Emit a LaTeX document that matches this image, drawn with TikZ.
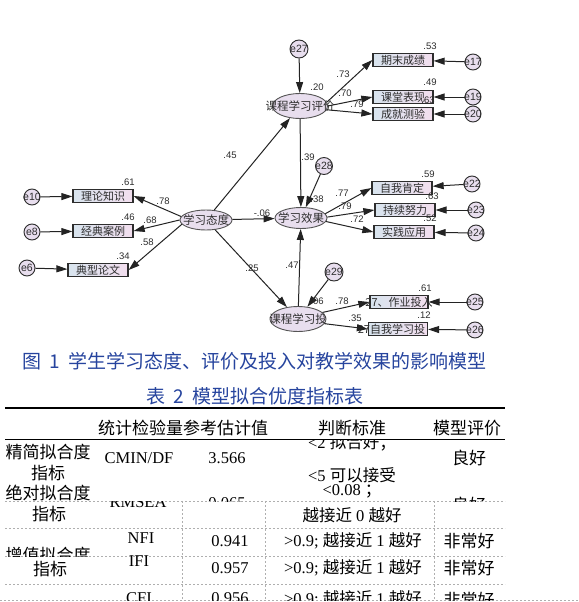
\documentclass[tikz,border=0pt]{standalone}
\usepackage{fontspec}
\setmainfont{Liberation Serif}
\newfontfamily\cjk{Noto Sans CJK SC}
\newfontfamily\arial{Liberation Sans}
\usetikzlibrary{arrows.meta,shapes.geometric}
\definecolor{semline}{RGB}{35,35,35}
\definecolor{semdark}{RGB}{45,45,45}
\definecolor{semgray}{RGB}{85,85,85}
\definecolor{semlav}{RGB}{232,222,238}
\definecolor{boxl}{RGB}{216,228,238}
\definecolor{boxr}{RGB}{242,222,238}
\definecolor{capblue}{RGB}{38,68,158}
\definecolor{gridgray}{RGB}{175,175,175}

\begin{document}
\begin{tikzpicture}[x=1pt, y=-1pt,
  latent/.style={ellipse, draw=semgray, line width=0.9pt, fill=semlav, inner sep=0pt, font=\cjk\fontsize{11.5}{13}\selectfont, text=semdark},
  obs/.style={rectangle, draw=semdark, line width=1.3pt, left color=boxl, right color=boxr, inner sep=0pt, minimum width=60pt, minimum height=13pt, font=\cjk\fontsize{11}{12}\selectfont, text=semdark},
  err/.style={circle, draw=semdark, line width=0.9pt, fill=semlav, inner sep=0pt, minimum size=16pt, font=\arial\fontsize{10.5}{12}\selectfont, text=semdark},
  coef/.style={inner sep=0pt, font=\arial\fontsize{9.5}{11}\selectfont, text=semdark},
  reg/.style={-{Triangle[length=11pt,width=7pt]}, line width=1pt, draw=semline},
  capt/.style={inner sep=0pt, anchor=west, font=\cjk\fontsize{19}{22}\selectfont, text=capblue},
  tcjk/.style={inner sep=0pt, font=\cjk\fontsize{17}{20}\selectfont},
  tlat/.style={inner sep=0pt, font=\fontsize{16.5}{20}\selectfont},
  gridline/.style={draw=gridgray, line width=0.8pt, dash pattern=on 2pt off 2pt}]
\fill[white] (0,0) rectangle (578,602);
\useasboundingbox (0,0) rectangle (578,602);
% latent variables
\node[latent, minimum width=52pt, minimum height=20pt] (att) at (206,220) {\makebox[0pt]{学习态度}};
\node[latent, minimum width=55pt, minimum height=25pt] (eval) at (300,106) {\makebox[0pt]{课程学习评价}};
\node[latent, minimum width=52pt, minimum height=21pt] (eff) at (301,218) {\makebox[0pt]{学习效果}};
\node[latent, minimum width=56pt, minimum height=25pt] (inv) at (298,319) {\makebox[0pt]{课程学习投}};
% observed variables
\node[obs] (r1) at (403,60) {期末成绩};
\node[obs] (r2) at (403,97) {课堂表现};
\node[obs] (r3) at (403,114) {成就测验};
\node[obs] (r4) at (402,188) {自我肯定};
\node[obs] (r5) at (405,210) {持续努力};
\node[obs] (r6) at (404,232) {实践应用};
\node[obs, minimum width=58pt] (r7) at (399,302) {\makebox[0pt]{27、作业投入}};
\node[obs, minimum width=59pt] (r8) at (398,329) {\makebox[0pt][r]{27自我学习投\hspace{-27pt}}};
\node[obs] (l1) at (103,196) {理论知识};
\node[obs] (l2) at (103,231) {经典案例};
\node[obs] (l3) at (98,270) {典型论文};
% error terms
\node[err, minimum size=18pt] (e27) at (299,49) {\makebox[0pt]{e27}};
\node[err, minimum size=17pt] (e28) at (324,166) {\makebox[0pt]{e28}};
\node[err, minimum size=18pt] (e29) at (334,272) {\makebox[0pt]{e29}};
\node[err] (e17) at (473,62) {\makebox[0pt]{e17}};
\node[err] (e19) at (473,97) {\makebox[0pt]{e19}};
\node[err] (e20) at (473,114) {\makebox[0pt]{e20}};
\node[err] (e22) at (472,184) {\makebox[0pt]{e22}};
\node[err] (e23) at (476,210) {\makebox[0pt]{e23}};
\node[err] (e24) at (476,233) {\makebox[0pt]{e24}};
\node[err] (e25) at (475,302) {\makebox[0pt]{e25}};
\node[err] (e26) at (475,330) {\makebox[0pt]{e26}};
\node[err] (e10) at (32,197) {\makebox[0pt]{e10}};
\node[err] (e8) at (32,232) {\makebox[0pt]{e8}};
\node[err] (e6) at (27,268) {\makebox[0pt]{e6}};
% paths
\draw[reg] (att) -- (eval);
\draw[reg] (att) -- (eff);
\draw[reg] (att) -- (inv);
\draw[reg] (att.172) -- (l1.east);
\draw[reg] (att.west) -- (l2.east);
\draw[reg] (att.190) -- (l3.east);
\draw[reg] (eval) -- (eff);
\draw[reg] (inv) -- (eff);
\draw[reg] (eval.8) -- (r1.west);
\draw[reg] (eval.0) -- (r2.west);
\draw[reg] (eval.-8) -- (r3.west);
\draw[reg] (eff.10) -- (r4.west);
\draw[reg] (eff.2) -- (r5.west);
\draw[reg] (eff.-8) -- (r6.west);
\draw[reg] (inv.15) -- (r7.west);
\draw[reg] (inv.-10) -- (r8.west);
\foreach \e/\v in {e27/eval, e28/eff, e29/inv, e17/r1, e19/r2, e20/r3, e22/r4, e23/r5, e24/r6, e25/r7, e26/r8, e10/l1, e8/l2, e6/l3}
  \draw[reg] (\e) -- (\v);
% estimates
\node[coef] (c20) at (317,87) {.20};
\node[coef] (c73) at (343,74) {.73};
\node[coef] (c70) at (345,93) {.70};
\node[coef] (c79a) at (357,104) {.79};
\node[coef] (c53) at (430,46) {.53};
\node[coef] (c49) at (430,82) {.49};
\node[coef] (c63a) at (428,100) {.63};
\node[coef] (c45) at (230,155) {.45};
\node[coef] (c39) at (308,157) {.39};
\node[coef] (c61a) at (128,182) {.61};
\node[coef] (c78a) at (163,201) {.78};
\node[coef] (c46) at (128,217) {.46};
\node[coef] (c68) at (150,220) {.68};
\node[coef] (c58) at (147,242) {.58};
\node[coef] (c34) at (123,256) {.34};
\node[coef] (c06a) at (262,213) {-.06};
\node[coef] (c25) at (252,268) {.25};
\node[coef] (c38) at (317,199) {.38};
\node[coef] (c77) at (342,193) {.77};
\node[coef] (c79b) at (345,206) {.79};
\node[coef] (c72) at (357,219) {.72};
\node[coef] (c59) at (428,174) {.59};
\node[coef] (c63b) at (432,196) {.63};
\node[coef] (c52) at (430,218) {.52};
\node[coef] (c47) at (292,265) {.47};
\node[coef] (c06b) at (317,301) {.06};
\node[coef] (c78b) at (342,301) {.78};
\node[coef] (c35) at (355,318) {.35};
\node[coef] (c61b) at (425,288) {.61};
\node[coef] (c12) at (424,315) {.12};
% captions
\node[capt] (fig) at (22,361) {图\hspace{8pt}1\hspace{9pt}学生学习态度、评价及投入对教学效果的影响模型};
\node[capt] (tab) at (146,396) {表\hspace{8pt}2\hspace{9pt}模型拟合优度指标表};
% table head
\draw[line width=1.8pt] (5,408) -- (505,408);
\node[tcjk] (h1) at (183,428) {统计检验量参考估计值};
\node[tcjk] (h2) at (352,428) {判断标准};
\node[tcjk] (h3) at (467,428) {模型评价};
% table body, upper part
\begin{scope}
  \clip (0,440) rectangle (578,501);
  \node[tcjk] at (48,452) {精简拟合度};
  \node[tcjk] at (48,473) {指标};
  \node[tlat] at (139,458) {CMIN/DF};
  \node[tlat] at (227,458) {3.566};
  \node[tlat] at (352,443) {<2 {\cjk 拟合好；}};
  \node[tcjk] at (469,458) {良好};
  \node[tlat] at (352,475) {<5 {\cjk 可以接受}};
  \node[tcjk] at (48,493) {绝对拟合度};
  \node[tlat] at (227,503) {0.065};
  \node[tlat] at (352,491) {<0.08 {\cjk ；}};
  \node[tcjk] at (469,505) {良好};
\end{scope}
\draw[line width=0.9pt] (5,439) -- (505,439);
% table body, lower part
\begin{scope}
  \clip (0,501) rectangle (578,600);
  \foreach \y in {501,528,556,584}
    \draw[gridline] (5,\y) -- (505,\y);
  \draw[gridline] (0,600) -- (578,600);
  \foreach \x in {182,265,434}
    \draw[gridline] (\x,501) -- (\x,600);
  \node[tcjk] at (49,514) {指标};
  \node[tlat] at (138,502.5) {RMSEA};
  \node[tlat] at (352,515) {{\cjk 越接近} 0 {\cjk 越好}};
  \begin{scope}
    \clip (0,501) rectangle (578,556);
    \node[tcjk] at (48,555) {增值拟合度};
  \end{scope}
  \node[tlat] at (141,538) {NFI};
  \node[tlat] at (230,541) {0.941};
  \node[tlat] at (353,541) {>0.9; {\cjk 越接近} 1 {\cjk 越好}};
  \node[tcjk] at (469,541) {非常好};
  \node[tlat] at (139,561) {IFI};
  \node[tcjk] at (50,569) {指标};
  \node[tlat] at (230,568) {0.957};
  \node[tlat] at (353,568) {>0.9; {\cjk 越接近} 1 {\cjk 越好}};
  \node[tcjk] at (469,568) {非常好};
  \node[tlat] at (139,598) {CFI};
  \node[tlat] at (230,598) {0.956};
  \node[tlat] at (353,599) {>0.9; {\cjk 越接近} 1 {\cjk 越好}};
  \node[tcjk] at (469,600) {非常好};
\end{scope}
\end{tikzpicture}
\end{document}
